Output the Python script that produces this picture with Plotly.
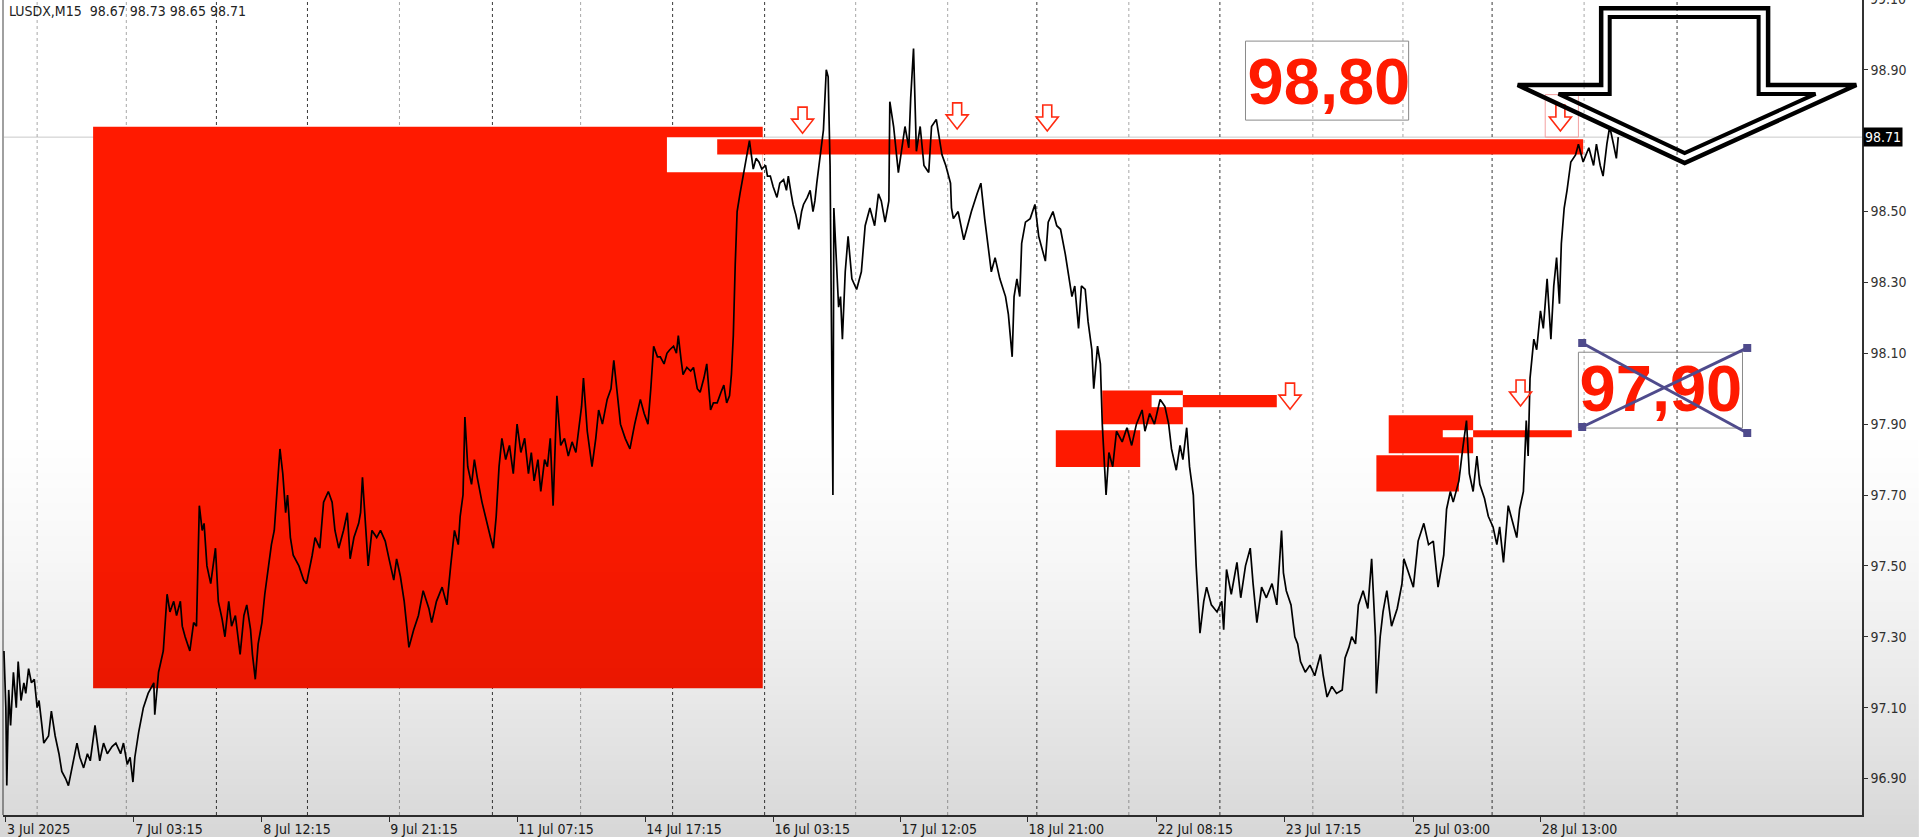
import base64, struct, zlib
import plotly.graph_objects as go

# ---------------- data (bar index, price) ----------------
bars = [1,3,4,6,8,11,14,16,19,22,24,27,30,33,36,38,41,43,48,51,55,59,62,66,69,73,78,81,85,89,92,97,102,106,110,115,119,124,127,131,134,137,139,143,148,153,159,160,164,169,173,176,180,183,187,189,192,197,201,204,207,210,212,215,219,224,227,231,234,238,241,245,248,250,254,257,261,263,266,269,273,276,280,283,286,289,292,295,298,300,303,306,312,317,320,326,329,334,338,343,347,350,354,359,363,366,370,375,377,379,382,385,389,394,398,403,407,412,415,419,423,428,433,438,443,449,452,457,463,
        468,472,476,480,482,485,487,490,494,497,500,505,510,514,517,520,523,526,530,534,538,542,546,550,554,557,560,564,567,571,574,577,580,584,588,592,596,600,604,607,610,612,616,621,625,628,632,637,641,644,648,651,656,661,666,672,676,680,683,686,690,693,697,700,703,707,710,712,715,717,721,725,728,732,735,739,742,746,749,753,757,760,763,766,768,770,772,774,777,779,782,784,787,789,791,794,797,800,804,806,809,812,816,819,823,826,828,831,833,836,839,842,844,848,851,854,856,858,861,863,865,
        868,870,872,875,876,878,881,883,885,888,891,895,900,905,909,914,919,923,926,930,934,935,939,944,947,951,955,957,960,963,967,971,976,979,984,990,994,999,1000,1002,1007,1013,1017,1021,1027,1031,1035,1039,1042,1046,1051,1057,1060,1064,1066,1069,1072,1074,1078,1083,1088,1092,1095,1099,1102,1107,1111,1115,1120,1123,1127,1130,1134,1137,1141,1144,1148,1150,1154,1157,1159,1163,1166,1170,1174,1180,1185,1190,1195,1201,1204,1209,1214,1220,1225,1229,1232,1237,1241,1244,1248,1251,1255,1258,1262,1266,1269,1274,1280,1285,1287,1290,1295,1301,1305,1310,1315,1318,1322,1327,1332,1338,1343,1348,
        1350,1353,1358,1362,1365,1368,1373,1378,1383,1389,1392,1396,1401,1406,1412,1415,1419,1422,1426,1429,1434,1439,1443,1447,1448,1452,1455,1459,1464,1470,1475,1477,1482,1487,1492,1498,1503,1508,1513,1519,1522,1526,1529,1535,1539,1543,1546,1550,1554,1557,1562,1566,1571,1575,1578,1582,1587,1592,1596,1599,1603,1606,1608,1610,1614,1617,1621,1624,1628,1632,1635,1638,1641,1643,1646,1649,1653,1658,1661,1666,1672,1677,1680,1684,1687,1691,1694,1698,1701,1703]
prices = [97.26,97.10,96.88,97.15,97.05,97.20,97.10,97.23,97.12,97.17,97.14,97.21,97.17,97.18,97.10,97.12,97.05,97.00,97.02,97.09,97.02,96.97,96.92,96.90,96.88,96.93,97.00,96.96,96.93,96.97,96.95,97.05,96.95,97.00,96.97,96.99,97.00,96.97,97.00,96.94,96.96,96.89,96.96,97.03,97.10,97.14,97.17,97.08,97.20,97.26,97.42,97.37,97.40,97.36,97.40,97.33,97.30,97.26,97.34,97.33,97.67,97.60,97.62,97.50,97.45,97.55,97.40,97.35,97.30,97.40,97.33,97.36,97.30,97.25,97.36,97.39,97.32,97.25,97.18,97.28,97.34,97.42,97.50,97.56,97.60,97.72,97.83,97.76,97.65,97.70,97.58,97.53,97.50,97.46,97.45,97.53,97.58,97.55,97.68,97.71,97.68,97.60,97.55,97.60,97.65,97.52,97.58,97.62,97.65,97.75,97.62,97.50,97.60,97.58,97.60,97.57,97.52,97.46,97.52,97.47,97.40,97.27,97.32,97.36,97.43,97.38,97.34,97.40,97.44,
          97.39,97.50,97.60,97.56,97.64,97.70,97.92,97.78,97.73,97.80,97.75,97.68,97.62,97.58,97.55,97.64,97.78,97.86,97.80,97.84,97.76,97.90,97.82,97.86,97.76,97.82,97.74,97.80,97.71,97.80,97.78,97.86,97.67,97.98,97.84,97.86,97.81,97.85,97.82,97.88,97.95,98.03,97.88,97.78,97.86,97.94,97.90,97.97,98.00,98.08,97.98,97.90,97.86,97.83,97.90,97.97,97.93,97.90,98.00,98.12,98.09,98.09,98.07,98.10,98.11,98.12,98.10,98.15,98.08,98.04,98.06,98.05,98.06,98.00,97.99,98.03,98.07,97.94,97.96,97.96,97.99,98.01,97.96,97.98,98.04,98.15,98.35,98.50,98.55,98.58,98.62,98.66,98.70,98.66,98.62,98.65,98.64,98.62,98.63,98.60,98.60,98.57,98.54,98.58,98.59,98.56,98.60,98.55,98.52,98.49,98.45,98.50,98.52,98.54,98.56,98.50,98.53,98.58,98.64,98.68,98.73,
          98.90,98.88,98.63,97.70,98.51,98.38,98.23,98.26,98.14,98.33,98.43,98.31,98.28,98.33,98.46,98.51,98.46,98.55,98.53,98.47,98.53,98.81,98.74,98.61,98.66,98.74,98.68,98.82,98.96,98.67,98.74,98.63,98.61,98.74,98.76,98.66,98.63,98.58,98.51,98.48,98.50,98.42,98.46,98.50,98.55,98.58,98.48,98.40,98.33,98.37,98.31,98.26,98.21,98.09,98.26,98.31,98.26,98.41,98.47,98.48,98.52,98.43,98.40,98.36,98.47,98.50,98.46,98.45,98.38,98.33,98.26,98.29,98.17,98.29,98.28,98.19,98.11,98.00,98.12,98.07,97.90,97.70,97.82,97.78,97.88,97.85,97.89,97.84,97.90,97.94,97.88,97.93,97.90,97.97,97.95,97.90,97.83,97.77,97.84,97.80,97.89,97.78,97.70,97.50,97.31,97.40,97.44,97.39,97.37,97.40,97.32,97.49,97.42,97.51,97.41,97.50,97.55,97.45,97.34,97.44,97.41,97.45,97.39,97.60,
          97.48,97.43,97.39,97.30,97.28,97.23,97.20,97.22,97.19,97.25,97.19,97.13,97.16,97.14,97.15,97.24,97.27,97.30,97.28,97.39,97.43,97.38,97.52,97.30,97.14,97.30,97.37,97.43,97.33,97.38,97.45,97.52,97.48,97.44,97.57,97.62,97.56,97.57,97.44,97.53,97.66,97.71,97.68,97.74,97.83,97.91,97.76,97.71,97.81,97.73,97.69,97.64,97.61,97.56,97.61,97.51,97.67,97.62,97.58,97.66,97.71,97.91,97.81,98.03,98.14,98.11,98.22,98.17,98.31,98.14,98.29,98.37,98.24,98.41,98.51,98.56,98.64,98.66,98.69,98.64,98.68,98.63,98.69,98.63,98.60,98.69,98.74,98.69,98.65,98.71]

title_text = "LUSDX,M15\u00a0\u00a098.67 98.73 98.65 98.71"
last_price = 98.71

x_tick_bars = [3, 138, 273, 407, 542, 677, 812, 946, 1080, 1216, 1351, 1487, 1621]
x_tick_labels = ["3 Jul 2025", "7 Jul 03:15", "8 Jul 12:15", "9 Jul 21:15", "11 Jul 07:15",
                 "14 Jul 17:15", "16 Jul 03:15", "17 Jul 12:05", "18 Jul 21:00", "22 Jul 08:15",
                 "23 Jul 17:15", "25 Jul 03:00", "28 Jul 13:00"]
y_ticks = [96.90, 97.10, 97.30, 97.50, 97.70, 97.90, 98.10, 98.30, 98.50, 98.90]
y_tick_labels = ["96.90", "97.10", "97.30", "97.50", "97.70", "97.90", "98.10", "98.30", "98.50", "98.90"]
grid_bars = [36, 130, 225, 321, 418, 516, 609, 706, 803, 899, 996, 1090, 1187, 1283, 1381, 1476, 1570, 1667, 1765]
grid_dark = [0, 0, 1, 1, 0, 1, 0, 1, 1, 0, 0, 1, 0, 1, 0, 0, 1, 0, 1]

# red zones: (bar0, bar1, price0, price1, fill)
zones = [
    (95, 801, 97.155, 98.739, "red"),
    (700, 801, 98.611, 98.710, "white"),
    (753, 1666, 98.661, 98.704, "red"),
    (1159, 1244, 97.900, 97.995, "red"),
    (1110, 1199, 97.779, 97.883, "red"),
    (1211, 1244, 97.948, 97.982, "white"),
    (1244, 1343, 97.948, 97.982, "red"),
    (1461, 1550, 97.818, 97.925, "red"),
    (1448, 1535, 97.710, 97.812, "red"),
    (1518, 1550, 97.863, 97.883, "white"),
    (1550, 1654, 97.863, 97.883, "red"),
]
arrow_bars = [843, 1006, 1101, 1642, 1357, 1600]
arrow_prices = [98.758, 98.770, 98.764, 98.764, 97.979, 97.988]

label_texts = ["98,80", "97,90"]
label_bars = [1398, 1748]
label_prices = [98.850, 97.982]
label_boxes = [(1310, 1482, 98.758, 98.981), (1661, 1834, 97.889, 98.103)]
pink_box = (1626, 1661, 98.71, 98.83)

cross_bars = [1665, 1839, 1665, 1839]
cross_prices = [98.129, 97.875, 97.892, 98.115]

big_arrow_outer = [(1685, 99.074), (1685, 98.857), (1597, 98.857), (1773, 98.637),
                   (1954, 98.857), (1861, 98.857), (1861, 99.074)]
big_arrow_inner = [(1694, 99.049), (1694, 98.832), (1640, 98.832), (1773, 98.665),
                   (1911, 98.832), (1851, 98.832), (1851, 99.049)]

RED = "#ff1a00"
FONT = "DejaVu Sans Condensed, DejaVu Sans, sans-serif"

# ---------------- vignette overlay (video shading) ----------------
def make_png(rows):
    raw = b"".join(b"\x00" + bytes(px) for px in rows)
    def chunk(t, d):
        return struct.pack(">I", len(d)) + t + d + struct.pack(">I", zlib.crc32(t + d) & 0xffffffff)
    png = (b"\x89PNG\r\n\x1a\n" + chunk(b"IHDR", struct.pack(">IIBBBBB", 1, len(rows), 8, 6, 0, 0, 0))
           + chunk(b"IDAT", zlib.compress(raw)) + chunk(b"IEND", b""))
    return "data:image/png;base64," + base64.b64encode(png).decode()

stops = [(0, 0.0), (430, 0.0), (550, 0.03), (650, 0.07), (750, 0.115), (837, 0.16)]
rows = []
for yy in range(0, 837, 3):
    for (y0, a0), (y1, a1) in zip(stops[:-1], stops[1:]):
        if y0 <= yy <= y1:
            a = a0 + (a1 - a0) * (yy - y0) / (y1 - y0)
            break
    rows.append((0, 0, 0, int(round(a * 255))))
overlay = make_png(rows)

# ---------------- figure ----------------
fig = go.Figure()
fig.add_trace(go.Scatter(x=bars, y=prices, mode="lines", line=dict(color="black", width=1.7),
                         hoverinfo="skip", showlegend=False))
fig.add_trace(go.Scatter(x=label_bars, y=label_prices, mode="text", text=label_texts,
                         textposition="middle center",
                         textfont=dict(family="Liberation Sans, Arial, sans-serif", size=65,
                                       color=RED, weight="bold"),
                         hoverinfo="skip", showlegend=False))
fig.add_trace(go.Scatter(x=[cross_bars[0], cross_bars[1], None, cross_bars[2], cross_bars[3]],
                         y=[cross_prices[0], cross_prices[1], None, cross_prices[2], cross_prices[3]],
                         mode="lines", line=dict(color="#4f4b8c", width=3),
                         hoverinfo="skip", showlegend=False))
fig.add_trace(go.Scatter(x=cross_bars, y=cross_prices, mode="markers",
                         marker=dict(symbol="square", size=8, color="#4f4b8c"),
                         hoverinfo="skip", showlegend=False))

shapes = []
for b0, b1, p0, p1, f in zones:
    shapes.append(dict(type="rect", xref="x", yref="y", x0=b0, x1=b1, y0=p0, y1=p1,
                       fillcolor=RED if f == "red" else "white", line=dict(width=0), layer="below"))
for b0, b1, p0, p1 in label_boxes:
    shapes.append(dict(type="rect", xref="x", yref="y", x0=b0, x1=b1, y0=p0, y1=p1,
                       line=dict(color="#8a8a8a", width=1), fillcolor="rgba(0,0,0,0)", layer="below"))
shapes.append(dict(type="rect", xref="x", yref="y", x0=pink_box[0], x1=pink_box[1], y0=pink_box[2],
                   y1=pink_box[3], line=dict(color="#f3a0a0", width=1), fillcolor="rgba(0,0,0,0)", layer="below"))
# bid line
shapes.append(dict(type="line", xref="paper", yref="y", x0=0, x1=1, y0=last_price, y1=last_price,
                   line=dict(color="#c9c9c9", width=1), layer="below"))
# vertical grid
for gb, dk in zip(grid_bars, grid_dark):
    shapes.append(dict(type="line", xref="x", yref="paper", x0=gb, x1=gb, y0=0, y1=1,
                       line=dict(color="#3a3a3a" if dk else "#a8a8a8", width=1, dash="dot"), layer="below"))
# left frame
shapes.append(dict(type="line", xref="paper", yref="paper", x0=0, x1=0, y0=0, y1=1,
                   line=dict(color="#a0a0a0", width=2), layer="below"))
# small red hollow arrows
arrow_path = "M-4.5,13 L4.5,13 L4.5,1 L11,1 L0,-13 L-11,1 L-4.5,1 Z"
for ab, ap in zip(arrow_bars, arrow_prices):
    shapes.append(dict(type="path", xref="x", yref="y", xsizemode="pixel", ysizemode="pixel",
                       xanchor=ab, yanchor=ap, path=arrow_path,
                       line=dict(color="#ff2a10", width=1.6), fillcolor="rgba(0,0,0,0)", layer="above"))
# big black hollow arrow (double outline)
for pts, w in ((big_arrow_outer, 4.5), (big_arrow_inner, 4)):
    path = "M" + " L".join(f"{b},{p}" for b, p in pts) + " Z"
    shapes.append(dict(type="path", xref="x", yref="y", path=path,
                       line=dict(color="black", width=w), fillcolor="rgba(0,0,0,0)", layer="above"))

annotations = [
    dict(text=title_text, xref="paper", yref="paper", x=0.0022, y=0.9865, xanchor="left",
         yanchor="middle", showarrow=False, font=dict(family=FONT, size=14, color="#222")),
    dict(text="98.71", xref="paper", yref="y", x=1.0006, y=last_price, xanchor="left",
         yanchor="middle", showarrow=False, bgcolor="black", borderpad=1,
         font=dict(family=FONT, size=14, color="white")),
    dict(text="99.10", xref="paper", yref="paper", x=1.0032, y=1.0012, xanchor="left",
         yanchor="middle", showarrow=False, font=dict(family=FONT, size=14, color="#333")),
]

fig.update_layout(
    width=1919, height=837, autosize=False,
    margin=dict(l=3, r=57, t=0, b=22, pad=0),
    paper_bgcolor="white", plot_bgcolor="white",
    showlegend=False,
    shapes=shapes, annotations=annotations,
    images=[dict(source=overlay, xref="paper", yref="paper", x=-0.0017, y=1.0,
                 sizex=1.0323, sizey=1.027, xanchor="left", yanchor="top",
                 sizing="stretch", layer="above")],
    xaxis=dict(range=[0, 1960], tickmode="array", tickvals=x_tick_bars, ticktext=x_tick_labels,
               ticks="outside", ticklen=5, tickcolor="#333", tickwidth=1,
               ticklabelposition="outside right",
               tickfont=dict(family=FONT, size=14, color="#222"),
               showline=True, linecolor="#333", linewidth=1.5, showgrid=False, zeroline=False),
    yaxis=dict(range=[96.797, 99.097], side="right", tickmode="array", tickvals=y_ticks,
               ticktext=y_tick_labels, ticks="outside", ticklen=4, tickcolor="#333",
               tickfont=dict(family=FONT, size=14, color="#333"),
               showline=True, linecolor="#333", linewidth=1.5, showgrid=False, zeroline=False),
)

fig.write_html("out.html", config={"displayModeBar": False},
               post_script="document.body.style.margin='0';document.body.style.overflow='hidden';")
